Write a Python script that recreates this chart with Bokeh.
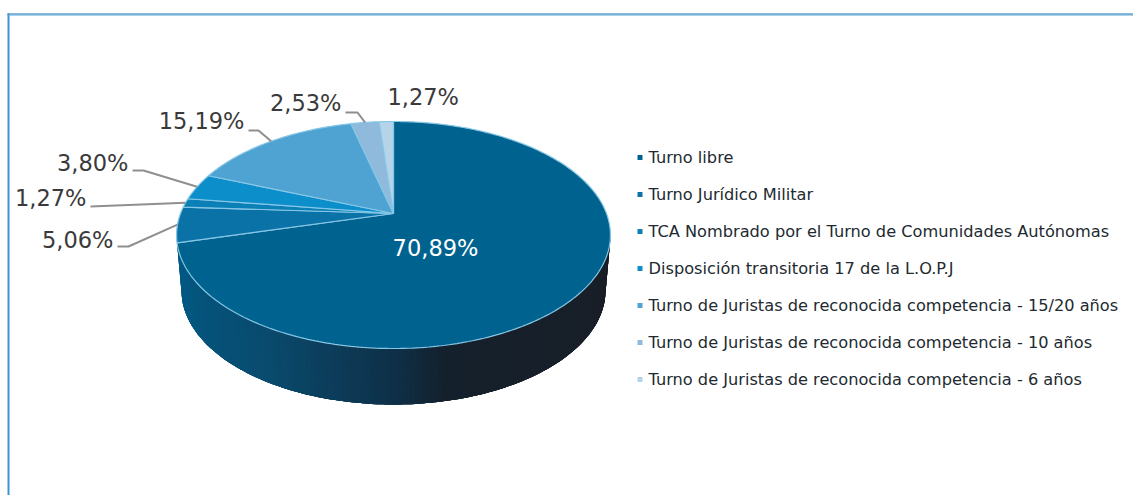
import math
from bokeh.plotting import figure
from bokeh.models import Range1d
from bokeh.embed import file_html
from bokeh.resources import INLINE
from bokeh.core.properties import value

# ---- data ----
categories = ["Turno libre", "Turno Jurídico Militar",
              "TCA Nombrado por el Turno de Comunidades Autónomas",
              "Disposición transitoria 17 de la L.O.P.J",
              "Turno de Juristas de reconocida competencia - 15/20 años",
              "Turno de Juristas de reconocida competencia - 10 años",
              "Turno de Juristas de reconocida competencia - 6 años"]
values = [70.89, 5.06, 1.27, 3.80, 15.19, 2.53, 1.27]
labels = ["70,89%", "5,06%", "1,27%", "3,80%", "15,19%", "2,53%", "1,27%"]
colors = ["#00638f", "#0a72a6", "#0a80b6", "#0c8ecb", "#4ea3d2", "#8fbadb", "#b6d4e9"]

# ---- layout (page pixels) ----
W, H = 1133, 495
CX, AY = 393.0, 213.0          # pie apex
K, A, C = 213.0, 69.1, -0.1894 # perspective of the disc
BOT_CY, BOT_RX, BOT_RY = 290.0, 212.0, 114.0
TOP_CY, TOP_RX, TOP_RY = 234.5, 217.0, 113.5
SIDE_STOPS = [(0.0, (0, 92, 136)), (0.3, (9, 75, 110)), (0.5, (14, 48, 72)),
              (0.58, (20, 32, 44)), (1.0, (26, 30, 38))]
LABEL_POS = [(435, 247, "center"), (113, 239, "right"), (86, 197, "right"),
             (128, 162, "right"), (244, 120, "right"), (341, 102, "right"), (387, 96, "left")]
ELBOWS = [None, [(117, 246), (128, 246)], [(90, 206)], [(132, 170), (143, 170)],
          [(248, 130), (258, 130)], [(345, 112), (357, 112)], None]

def rim(frac):
    t = 2 * math.pi * frac
    u, v = math.sin(t), -math.cos(t)
    d = 1 + C * v
    return CX + K * u / d, (A * v + AY) / d

def side_color(f):
    for (a, ca), (b, cb) in zip(SIDE_STOPS, SIDE_STOPS[1:]):
        if f <= b:
            s = (f - a) / (b - a)
            return "#%02x%02x%02x" % tuple(round(x + (y - x) * s) for x, y in zip(ca, cb))
    return "#1a1e26"

p = figure(width=W, height=H, x_range=Range1d(0, W), y_range=Range1d(H, 0),
           output_backend="svg", toolbar_location=None, min_border=0,
           outline_line_color=None, background_fill_color="white", border_fill_color="white")
p.styles = {"position": "absolute", "left": "0px", "top": "0px"}
p.xaxis.visible = False
p.yaxis.visible = False
p.grid.visible = False

# frame
p.quad(left=[7], right=[9], top=[13], bottom=[H], fill_color="#3f94d0", line_color=None)
p.quad(left=[7], right=[W], top=[13], bottom=[14], fill_color="#1f74ad", line_color=None)
p.quad(left=[7], right=[W], top=[14], bottom=[15], fill_color="#5aa8d8", line_color=None)

# extruded side, painted left to right with overlap
N = 120
sx, sy, sc = [], [], []
for i in range(N):
    angs = [math.pi * min(i + k, N) / N for k in range(6)]
    xs = [CX - TOP_RX * math.cos(a) for a in angs] + [CX - BOT_RX * math.cos(a) for a in reversed(angs)]
    ys = [TOP_CY + TOP_RY * math.sin(a) for a in angs] + [BOT_CY + BOT_RY * math.sin(a) for a in reversed(angs)]
    sx.append(xs); sy.append(ys); sc.append(side_color((i + 0.5) / N))
p.patches(sx, sy, fill_color=sc, line_color=None)

# top face slices
cum = 0.0
total = sum(values)
for val, col in zip(values, colors):
    n = max(3, int(val * 4))
    pts = [rim((cum + val * j / n) / total) for j in range(n + 1)]
    xs = [CX] + [q[0] for q in pts]
    ys = [AY] + [q[1] for q in pts]
    p.patch(xs, ys, fill_color=col, line_color="#86c6e6", line_width=1.2)
    cum += val

# leader lines
cum = 0.0
for val, el in zip(values, ELBOWS):
    if el:
        r = rim((cum + val / 2) / total)
        p.line([q[0] for q in el] + [r[0]], [q[1] for q in el] + [r[1]],
               line_color="#8f8f8f", line_width=2)
    cum += val

# data labels
for lab, (x, y, al) in zip(labels, LABEL_POS):
    p.text([x], [y], text=[lab], text_align=al, text_baseline="middle",
           text_font=value("DejaVu Sans"), text_font_size="22.5px",
           text_color="white" if lab == "70,89%" else "#3a3a3a")

# legend
for i, (cat, col) in enumerate(zip(categories, colors)):
    y = 157 + i * 37
    p.rect([639.5], [y], width=5, height=5, fill_color=col, line_color=None)
    p.text([648], [y], text=[cat], text_align="left", text_baseline="middle",
           text_font=value("DejaVu Sans"), text_font_size="16.2px", text_color="#222a30")

open("out.html", "w").write(file_html(p, INLINE))
